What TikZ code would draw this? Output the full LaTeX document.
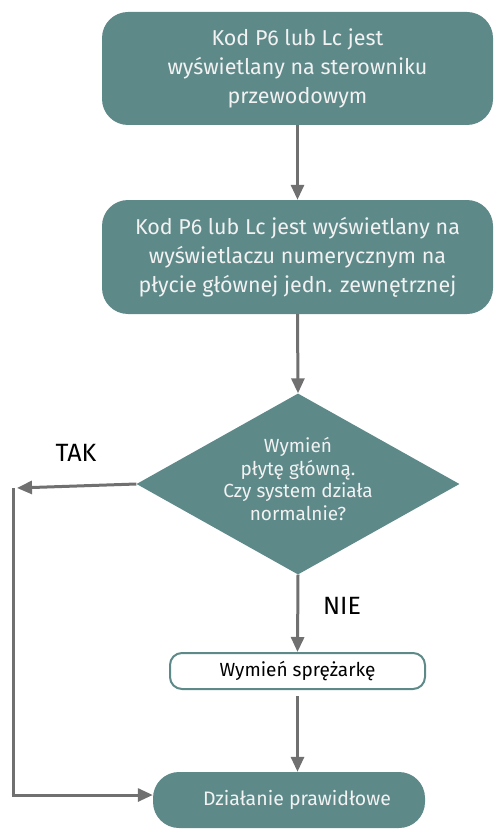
\documentclass[tikz,border=0pt]{standalone}
\usepackage{fontspec}
\setmainfont{Fira Sans}
\usetikzlibrary{shapes.geometric,arrows.meta}
\definecolor{teal1}{RGB}{94,137,137}
\definecolor{arrowgray}{RGB}{112,112,112}
\definecolor{boxtext}{RGB}{242,242,242}
\tikzset{
  tealbox/.style={draw=none,fill=teal1,rounded corners=26pt,text=boxtext,align=center,inner sep=0pt,font=\fontsize{21.5}{29}\selectfont},
  decision/.style={diamond,fill=teal1,inner sep=0pt,aspect=1.78,minimum width=323pt,minimum height=181pt},
  decisiontext/.style={text=boxtext,align=center,inner sep=0pt,font=\fontsize{19}{22.5}\selectfont},
  whitebox/.style={draw=teal1,line width=2pt,fill=white,rounded corners=12pt,minimum width=255pt,minimum height=36pt,inner sep=0pt,font=\fontsize{19}{22}\selectfont},
  flow/.style={draw=arrowgray,line width=3pt,-{Triangle[length=15pt,width=13pt]}},
  plain/.style={draw=arrowgray,line width=3pt},
  lbl/.style={font=\fontsize{25}{28}\selectfont,text=black}
}
\begin{document}
\begin{tikzpicture}[x=1pt,y=-1pt]
\useasboundingbox (0,0) rectangle (494,829);
\node[tealbox,minimum width=391pt,minimum height=113pt] (b1) at (297.5,68.5) {Kod P6 lub Lc jest\\wyświetlany na sterowniku\\przewodowym};
\node[tealbox,minimum width=391pt,minimum height=114pt] (b2) at (297.5,257) {Kod P6 lub Lc jest wyświetlany na\\wyświetlaczu numerycznym na\\płycie głównej jedn. zewnętrznej};
\node[decision] (d) at (298,484) {};
\node[decisiontext] (dt) at ([yshift=5pt]d.center) {Wymień\\płytę główną.\\Czy system działa\\normalnie?};
\node[whitebox] (b4) at (297.5,671) {Wymień sprężarkę};
\node[tealbox,minimum width=272pt,minimum height=56pt,font=\fontsize{19.5}{22}\selectfont] (b5) at (289,800) {\hspace*{16pt}Działanie prawidłowe};
\node[lbl] (tak) at (76,453) {TAK};
\node[lbl] (nie) at (342,606) {NIE};
\coordinate (t1) at (17,488);
\coordinate (v1) at (13,488);
\coordinate (v2) at (13,795);
\draw[flow] (b1.south) -- (b2.north);
\draw[flow] (b2.south) -- (d.north);
\draw[flow] (d.west) -- (t1);
\draw[flow] (d.south) -- (b4.north);
\draw[flow] (b4.south) ++(0,6) -- (b4.south |- b5.north);
\draw[plain,line cap=butt] (v1) -- (v2);
\draw[flow] ([xshift=-1.5pt]v2) -- (b5.west |- v2);
\end{tikzpicture}
\end{document}
